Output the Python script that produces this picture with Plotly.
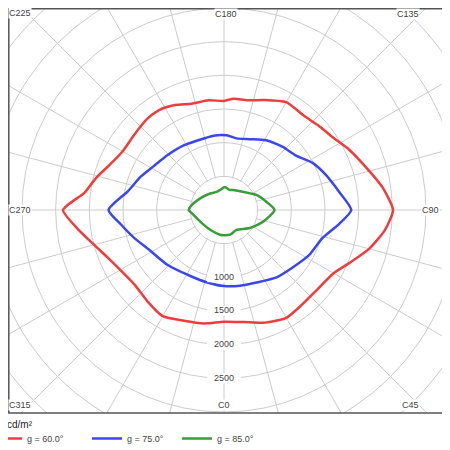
import math
import plotly.graph_objects as go

# luminance curves, C-plane angle (deg) vs cd/m2
red_theta = [0, 10, 20, 30, 40, 50, 60, 67, 75, 83, 90, 98, 108, 116, 124, 132, 140, 150, 160, 168,
             175, 180, 188, 197, 205, 213, 220, 230, 240, 248, 256, 263, 270, 277, 284, 292, 300, 310,
             320, 330, 340, 350, 360]
red_r = [1660, 1690, 1780, 1850, 1820, 1820, 1880, 2020, 2230, 2410, 2510, 2380, 2180, 2060, 1940, 1880,
         1835, 1850, 1740, 1665, 1660, 1620, 1645, 1650, 1720, 1770, 1770, 1740, 1740, 1820, 1960, 2090,
         2390, 2200, 2020, 1870, 1780, 1730, 1770, 1820, 1750, 1710, 1660]

blue_theta = [0, 12, 24, 38, 50, 62, 74, 83, 90, 99, 109, 118, 127, 137, 149, 160, 170, 178, 188, 201,
              212, 226, 238, 248, 259, 270, 278, 287, 299, 314, 333, 347, 360]
blue_r = [1130, 1150, 1180, 1270, 1330, 1430, 1520, 1720, 1890, 1730, 1600, 1490, 1340, 1280, 1210, 1120,
          1080, 1110, 1115, 1105, 1130, 1170, 1230, 1330, 1455, 1715, 1545, 1400, 1250, 1170, 1100, 1105, 1130]

green_theta = [0, 14, 32, 55, 73, 90, 101, 115, 134, 151, 165, 178, 190, 202, 220, 244, 264, 270, 273,
               296, 325, 351, 360]
green_r = [375, 378, 348, 468, 603, 750, 640, 530, 390, 336, 310, 343, 305, 290, 320, 393, 500, 525, 500,
           393, 359, 372, 375]

series_names = ['g = 60.0°', 'g = 75.0°', 'g = 85.0°']
series_colors = ['#f03c3c', '#3c46f0', '#3a9c3a']

radial_ticks = [500, 1000, 1500, 2000, 2500, 3000]
radial_labels = [1000, 1500, 2000, 2500]
outer_rings = [3500, 4000, 4500]
inner_blank = 485   # spokes only start at the first ring

corner_labels = ['C225', 'C180', 'C135', 'C270', 'C90', 'C315', 'C0', 'C45']

# page sits 8px in from the window corner (body margin), so work in window px and convert
OFF = 8
W = H = 450 - OFF
B = 36                               # bottom margin holding the legend
cx, cy, R = 224, 210, 202            # centre and radius (window px) of the 3000 ring
fx0, fy0, fx1, fy1 = 3, 3, 445, 413  # frame box in window px
GRID = '#cccccc'


def px(x):
    return (x - OFF) / W


def py(y):
    return 1 - (y - OFF) / (H - B)


fig = go.Figure()
# white disc hiding the spokes inside the first ring
fig.add_trace(go.Scatterpolar(r=[inner_blank] * 73, theta=list(range(0, 361, 5)), mode='lines',
                              fill='toself', fillcolor='white', line=dict(width=0, color='white'),
                              showlegend=False, hoverinfo='skip'))

legend_ids = ['legend', 'legend2', 'legend3']
for th, rr, name, col, lg in zip([red_theta, blue_theta, green_theta], [red_r, blue_r, green_r],
                                 series_names, series_colors, legend_ids):
    fig.add_trace(go.Scatterpolar(r=rr, theta=th, mode='lines', name=name, legend=lg,
                                  line=dict(color=col, width=2.5, shape='spline', smoothing=0.6)))

fig.add_trace(go.Scatterpolar(
    r=radial_labels, theta=[0] * len(radial_labels), mode='markers+text',
    text=[str(v) for v in radial_labels], textposition='middle center',
    textfont=dict(size=9, color='#444'),
    marker=dict(symbol='line-ew', size=24, color='white', line=dict(color='white', width=10)),
    showlegend=False, hoverinfo='skip'))

shapes = []
# grid continuing outside the polar area, into the frame corners
for ring in outer_rings:
    rp = R * ring / 3000
    shapes.append(dict(type='circle', xref='paper', yref='paper', layer='below',
                       x0=px(cx - rp), x1=px(cx + rp), y0=py(cy + rp), y1=py(cy - rp),
                       line=dict(color=GRID, width=1)))
for k in range(24):
    a = math.radians(k * 15)
    dx, dy = math.sin(a), math.cos(a)
    ts = []
    if dx > 1e-9: ts.append((fx1 - cx) / dx)
    if dx < -1e-9: ts.append((fx0 - cx) / dx)
    if dy > 1e-9: ts.append((fy1 - cy) / dy)
    if dy < -1e-9: ts.append((fy0 - cy) / dy)
    t = min(ts)
    shapes.append(dict(type='line', xref='paper', yref='paper', layer='below',
                       x0=px(cx + R * dx), y0=py(cy + R * dy),
                       x1=px(cx + t * dx), y1=py(cy + t * dy),
                       line=dict(color=GRID, width=1)))
# white masks outside the frame (right and bottom)
for x0, x1, y0, y1 in [(fx1, 460, 0, 460), (0, 460, fy1, 460)]:
    shapes.append(dict(type='rect', xref='paper', yref='paper', layer='below',
                       x0=px(x0), x1=px(x1), y0=py(y1), y1=py(y0),
                       fillcolor='white', line=dict(width=0)))
shapes.append(dict(type='rect', xref='paper', yref='paper', layer='above',
                   x0=px(max(fx0, OFF + 0.8)), x1=px(fx1), y0=py(fy1), y1=py(max(fy0, OFF + 0.8)),
                   line=dict(color='#555', width=1.5)))

label_pos = [(20, 13), (226, 14), (408, 14), (20, 210), (430, 210), (20, 405), (224, 405), (410, 405)]
annotations = [dict(text=t, x=px(x), y=py(y), xref='paper', yref='paper', showarrow=False,
                    xanchor='center', yanchor='middle',
                    font=dict(size=9, color='#444'), bgcolor='white', borderpad=0)
               for t, (x, y) in zip(corner_labels, label_pos)]
annotations.append(dict(text='cd/m²', x=px(5), y=py(425), xref='paper', yref='paper', showarrow=False,
                        xanchor='left', yanchor='middle', font=dict(size=10, color='#222')))

legend_x = [-13, 87, 177]
legends = {lg: dict(orientation='h', x=px(lx), xanchor='left', y=py(424), yanchor='top',
                    font=dict(size=9, color='#444'), itemwidth=30, bgcolor='rgba(0,0,0,0)')
           for lg, lx in zip(legend_ids, legend_x)}

fig.update_layout(
    width=W, height=H, margin=dict(l=0, r=0, t=0, b=B, pad=0, autoexpand=False),
    paper_bgcolor='white', plot_bgcolor='white',
    font=dict(family='Liberation Sans, Arial, sans-serif', size=9, color='#444'),
    polar=dict(
        domain=dict(x=[px(cx - R), px(cx + R)], y=[max(0, py(cy + R)), min(1, py(cy - R))]),
        bgcolor='white',
        radialaxis=dict(range=[0, 3000], tickvals=radial_ticks, showticklabels=False, ticks='',
                        showline=False, gridcolor=GRID, gridwidth=1),
        angularaxis=dict(rotation=270, direction='counterclockwise', tickmode='linear', tick0=0, dtick=15,
                         showticklabels=False, ticks='', gridcolor=GRID, gridwidth=1,
                         showline=True, linecolor=GRID, linewidth=1),
    ),
    shapes=shapes, annotations=annotations,
    **legends,
)

fig.write_html('out.html')
